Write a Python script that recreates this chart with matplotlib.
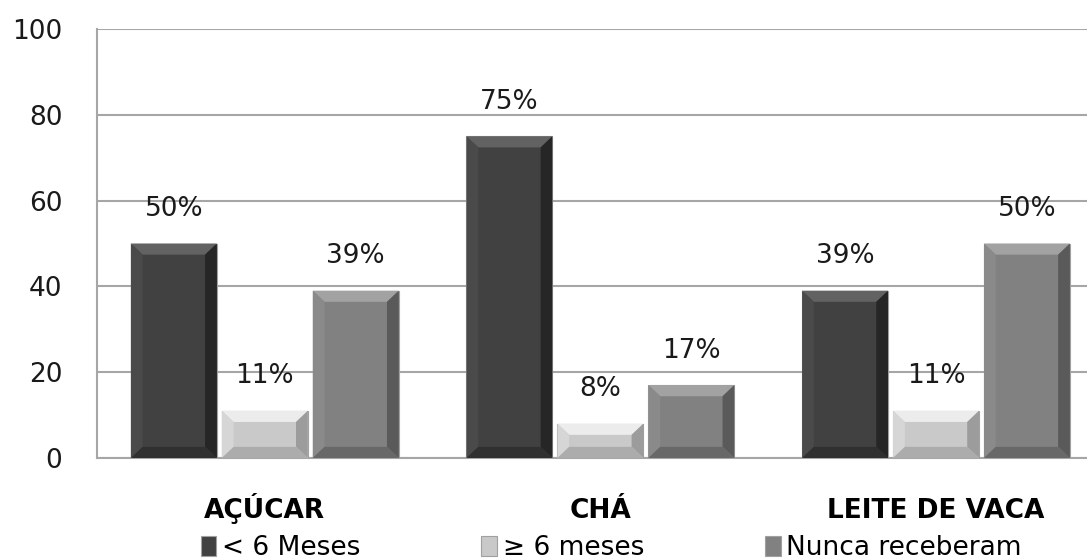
import numpy as np
import matplotlib.pyplot as plt
from matplotlib.patches import Polygon

# dados
categorias = ['AÇÚCAR', 'CHÁ', 'LEITE DE VACA']
series = ['< 6 Meses', '≥ 6 meses', 'Nunca receberam']
menos_6 = [50, 75, 39]
mais_6 = [11, 8, 11]
nunca = [39, 17, 50]
rotulos = [['50%', '75%', '39%'], ['11%', '8%', '11%'], ['39%', '17%', '50%']]

valores = [menos_6, mais_6, nunca]
cores = ['#414141', '#c9c9c9', '#818181']
topo = ['#626262', '#ececec', '#a2a2a2']
lado_esq = ['#4a4a4a', '#d6d6d6', '#8a8a8a']
lado_dir = ['#262626', '#9c9c9c', '#5a5a5a']
base = ['#303030', '#acacac', '#686868']

fig = plt.figure(figsize=(10.87, 5.6), dpi=100)
ax = fig.add_axes([97 / 1087, 1 - 458 / 560, 1 - 97 / 1087, (458 - 29) / 560])

x = np.arange(len(categorias))
w = 0.256
passo = 0.271

bx = 0.035   # bevel horizontal (unidades de dados)
by = 2.6     # bevel vertical

for i, (vals, labs) in enumerate(zip(valores, rotulos)):
    xs = x + (i - 1) * passo
    bars = ax.bar(xs, vals, width=w, color=cores[i], edgecolor='#a0a0a0',
                  linewidth=0.8, zorder=3, label=series[i])
    for b, lab in zip(bars, labs):
        x0 = b.get_x()
        x1 = x0 + b.get_width()
        h = b.get_height()
        d = min(by, h / 2.5)
        ax.add_patch(Polygon([(x0, h), (x1, h), (x1 - bx, h - d), (x0 + bx, h - d)],
                             closed=True, facecolor=topo[i], edgecolor='none', zorder=4))
        ax.add_patch(Polygon([(x0, 0), (x0, h), (x0 + bx, h - d), (x0 + bx, d)],
                             closed=True, facecolor=lado_esq[i], edgecolor='none', zorder=4))
        ax.add_patch(Polygon([(x1, 0), (x1, h), (x1 - bx, h - d), (x1 - bx, d)],
                             closed=True, facecolor=lado_dir[i], edgecolor='none', zorder=4))
        ax.add_patch(Polygon([(x0, 0), (x1, 0), (x1 - bx, d), (x0 + bx, d)],
                             closed=True, facecolor=base[i], edgecolor='none', zorder=4))
        ax.text(x0 + b.get_width() / 2, h + 8, lab, ha='center', va='center',
                fontsize=19, color='#1a1a1a', zorder=5)

ax.set_ylim(0, 100)
ax.set_xlim(-0.5, 2.45)
ax.set_yticks(range(0, 101, 20))
ax.grid(axis='y', color='#a6a6a6', linewidth=1.5, zorder=0)
ax.tick_params(axis='y', length=0, labelsize=19, pad=25, labelcolor='#1a1a1a')
ax.tick_params(axis='x', length=0, pad=43)
ax.set_xticks(x)
ax.set_xticklabels(categorias, fontsize=19, fontweight='bold', va='baseline')
for s in ['top', 'right']:
    ax.spines[s].set_visible(False)
for s in ['left', 'bottom']:
    ax.spines[s].set_color('#a6a6a6')
    ax.spines[s].set_linewidth(1.5)

leg = fig.legend(loc='center left', bbox_to_anchor=(190 / 1087, 1 - 548 / 560), ncol=3,
                 frameon=False, handlelength=0.6, handleheight=0.8,
                 handletextpad=0.2, columnspacing=4.6, borderaxespad=0,
                 prop={'size': 19})

fig.savefig('out.png', dpi=100)
